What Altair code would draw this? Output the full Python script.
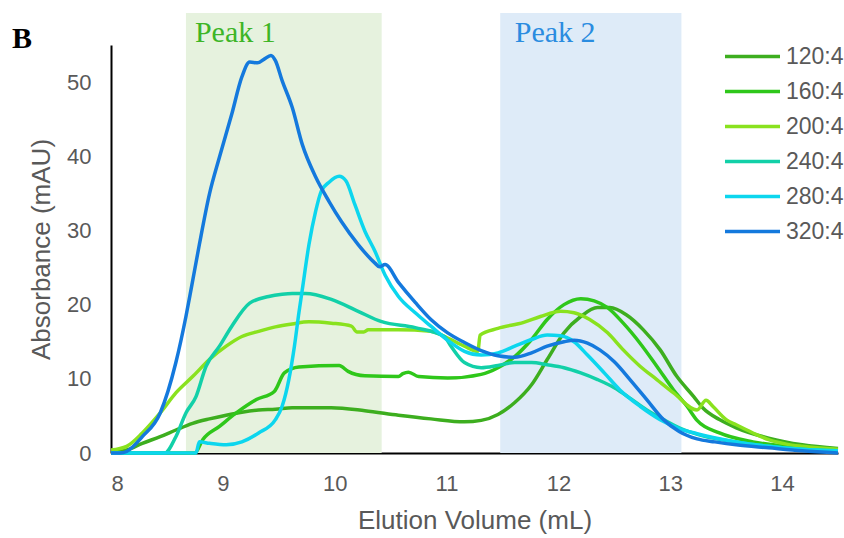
import altair as alt
import pandas as pd

series_names = ["120:4", "160:4", "200:4", "240:4", "280:4", "320:4"]
series_colors = ["#3dae1f", "#2fc71a", "#89e21e", "#12d0a8", "#0cd6ee", "#1479dd"]

x_120 = [8.0, 8.14, 8.28, 8.44, 8.58, 8.73, 8.88, 9.03, 9.17, 9.32, 9.47, 9.62, 9.77, 9.97, 10.27, 10.57, 10.86, 11.16, 11.31, 11.46, 11.61, 11.76, 11.90, 12.05, 12.20, 12.35, 12.46, 12.61, 12.76, 12.91, 13.06, 13.21, 13.29, 13.44, 13.59, 13.88, 14.18, 14.5]
y_120 = [0, 0.4, 1.3, 2.2, 3.1, 4.0, 4.6, 5.1, 5.5, 5.8, 5.9, 6.1, 6.1, 6.1, 5.7, 5.1, 4.6, 4.2, 4.4, 5.2, 6.8, 9.2, 12.6, 16.2, 18.4, 19.6, 19.6, 18.6, 16.6, 13.9, 10.3, 7.6, 6.1, 4.5, 3.4, 2.0, 1.1, 0.6]

x_160 = [8.0, 8.75, 8.82, 8.97, 9.12, 9.30, 9.46, 9.55, 9.68, 10.04, 10.12, 10.27, 10.57, 10.61, 10.66, 10.75, 11.01, 11.31, 11.46, 11.61, 11.76, 11.90, 12.05, 12.20, 12.32, 12.44, 12.58, 12.73, 12.88, 13.03, 13.15, 13.24, 13.44, 13.74, 14.04, 14.5]
y_160 = [0, 0, 1.8, 3.6, 5.4, 7.2, 8.3, 10.8, 11.6, 11.8, 11.0, 10.4, 10.3, 10.7, 10.9, 10.3, 10.1, 10.6, 11.5, 13.0, 15.3, 18.0, 20.0, 20.8, 20.5, 19.6, 17.5, 14.8, 11.7, 8.5, 6.3, 4.4, 2.7, 1.5, 0.9, 0.4]

x_200 = [8.0, 8.14, 8.28, 8.44, 8.58, 8.73, 8.88, 9.03, 9.17, 9.32, 9.47, 9.62, 9.77, 9.97, 10.15, 10.20, 10.26, 10.30, 10.57, 10.86, 11.01, 11.16, 11.28, 11.30, 11.46, 11.69, 11.84, 12.02, 12.14, 12.28, 12.44, 12.58, 12.73, 12.88, 13.03, 13.24, 13.32, 13.38, 13.50, 13.59, 13.74, 13.88, 14.04, 14.18, 14.5]
y_200 = [0.4, 0.9, 2.7, 5.4, 8.1, 10.3, 12.6, 14.4, 15.7, 16.4, 17.0, 17.4, 17.7, 17.5, 17.1, 16.3, 16.3, 16.6, 16.6, 16.4, 15.5, 14.4, 13.7, 15.9, 16.8, 17.6, 18.4, 19.1, 18.9, 18.0, 16.2, 13.9, 11.7, 9.9, 8.1, 5.8, 7.1, 6.3, 4.5, 3.8, 2.7, 1.8, 1.2, 0.9, 0.5]

x_240 = [8.0, 8.48, 8.58, 8.67, 8.76, 8.85, 8.97, 9.08, 9.24, 9.41, 9.53, 9.62, 9.74, 9.97, 10.21, 10.42, 10.72, 10.98, 11.04, 11.16, 11.31, 11.46, 11.61, 11.76, 11.90, 12.05, 12.20, 12.35, 12.50, 12.64, 12.79, 12.94, 13.08, 13.29, 13.59, 13.88, 14.18, 14.5]
y_240 = [0, 0, 2.2, 5.4, 7.6, 11.7, 14.4, 17.1, 20.2, 21.1, 21.4, 21.5, 21.5, 20.7, 19.1, 17.7, 16.9, 15.7, 14.4, 12.2, 11.5, 11.8, 12.2, 12.2, 11.9, 11.5, 10.8, 9.9, 8.8, 7.4, 5.8, 4.5, 3.4, 2.3, 1.5, 0.9, 0.5, 0.3]

x_280 = [8.0, 8.76, 8.79, 8.88, 9.03, 9.17, 9.32, 9.47, 9.53, 9.59, 9.64, 9.68, 9.71, 9.77, 9.83, 9.88, 9.95, 10.04, 10.10, 10.18, 10.27, 10.36, 10.45, 10.57, 10.72, 10.86, 11.01, 11.16, 11.31, 11.46, 11.61, 11.76, 11.90, 12.02, 12.14, 12.26, 12.41, 12.55, 12.73, 12.91, 13.08, 13.24, 13.59, 13.88, 14.18, 14.5]
y_280 = [0, 0, 1.5, 1.3, 1.1, 1.5, 2.7, 4.5, 6.3, 9.9, 14.4, 18.9, 22.0, 28.1, 32.6, 35.3, 36.5, 37.3, 36.7, 33.5, 29.9, 27.2, 24.0, 21.1, 18.9, 17.1, 15.2, 13.7, 13.2, 13.5, 14.4, 15.3, 15.9, 15.8, 15.0, 13.2, 10.8, 8.5, 6.3, 4.5, 3.3, 2.6, 1.5, 0.9, 0.5, 0.3]

x_320 = [8.0, 8.08, 8.14, 8.28, 8.44, 8.58, 8.67, 8.72, 8.79, 8.88, 8.97, 9.08, 9.17, 9.24, 9.31, 9.37, 9.43, 9.47, 9.53, 9.62, 9.71, 9.83, 9.95, 10.06, 10.21, 10.36, 10.40, 10.45, 10.57, 10.72, 10.86, 11.01, 11.16, 11.31, 11.46, 11.61, 11.76, 11.90, 12.05, 12.14, 12.26, 12.37, 12.50, 12.64, 12.79, 12.94, 13.08, 13.24, 13.40, 13.59, 13.88, 14.18, 14.5]
y_320 = [0, 0, 0.2, 2.2, 5.4, 12.2, 18.4, 22.4, 28.1, 34.9, 39.9, 45.7, 50.7, 52.7, 52.6, 53.1, 53.6, 52.9, 50.2, 46.6, 41.6, 37.2, 33.9, 31.2, 28.1, 25.6, 25.1, 25.4, 23.0, 20.3, 18.0, 16.2, 14.9, 13.8, 13.1, 12.9, 13.5, 14.4, 15.0, 15.2, 14.8, 13.9, 12.3, 9.9, 7.2, 4.5, 2.9, 1.9, 1.5, 1.1, 0.7, 0.3, 0]

peak_names = ["Peak 1", "Peak 2"]
peak_start = [8.67, 11.48]
peak_end = [10.42, 13.10]
peak_top = [59.3, 59.3]
peak_bottom = [0, 0]
peak_fill = ["#e6f2de", "#deebf8"]
peak_text_color = ["#3db526", "#2a8ce0"]
peak_label_x = [8.75, 11.61]
peak_label_y = [55.4, 55.4]

x_ticks = [8, 9, 10, 11, 12, 13, 14]
y_ticks = [0, 10, 20, 30, 40, 50]

all_x = [x_120, x_160, x_200, x_240, x_280, x_320]
all_y = [y_120, y_160, y_200, y_240, y_280, y_320]
rows = []
for name, xs, ys in zip(series_names, all_x, all_y):
    for i, (a, b) in enumerate(zip(xs, ys)):
        rows.append({"series": name, "vol": a, "absb": b, "idx": i})
df = pd.DataFrame(rows)

peaks = pd.DataFrame({
    "name": peak_names, "start": peak_start, "end": peak_end,
    "top": peak_top, "bottom": peak_bottom,
    "lx": peak_label_x, "ly": peak_label_y,
})

xscale = alt.Scale(domain=[8, 14.5], nice=False, zero=False)
yscale = alt.Scale(domain=[0, 55], nice=False)

gray = "#595959"
xaxis = alt.Axis(values=x_ticks, format="d", title="Elution Volume (mL)", grid=False, ticks=False,
                 domainColor="black", domainWidth=2, labelFontSize=22, labelColor=gray,
                 labelFont="Liberation Sans", titleFont="Liberation Sans", titleFontSize=26,
                 titleFontWeight="normal", titleColor=gray, labelPadding=20, titlePadding=13)
yaxis = alt.Axis(values=y_ticks, title="Absorbance (mAU)", grid=False, ticks=False,
                 domainColor="black", domainWidth=2, labelFontSize=22, labelColor=gray,
                 labelFont="Liberation Sans", titleFont="Liberation Sans", titleFontSize=26,
                 titleFontWeight="normal", titleColor=gray, labelPadding=20, titlePadding=12)

rects = alt.Chart(peaks).mark_rect().encode(
    x=alt.X("start:Q", scale=xscale, axis=xaxis),
    x2="end:Q",
    y=alt.Y("top:Q", scale=yscale, axis=yaxis),
    y2="bottom:Q",
    color=alt.Color("name:N", scale=alt.Scale(domain=peak_names, range=peak_fill), legend=None),
)

labels = alt.Chart(peaks).mark_text(
    align="left", baseline="alphabetic", font="Liberation Serif", fontSize=30
).encode(
    x=alt.X("lx:Q", scale=xscale),
    y=alt.Y("ly:Q", scale=yscale),
    text="name:N",
    color=alt.Color("name:N", scale=alt.Scale(domain=peak_names, range=peak_text_color), legend=None),
)

lines = alt.Chart(df).mark_line(strokeWidth=3.5, interpolate="monotone").encode(
    x=alt.X("vol:Q", scale=xscale),
    y=alt.Y("absb:Q", scale=yscale),
    color=alt.Color("series:N", scale=alt.Scale(domain=series_names, range=series_colors),
                    legend=alt.Legend(title=None, orient="none", legendX=612, legendY=-6,
                                      symbolType="stroke", symbolSize=3025, symbolStrokeWidth=3.5,
                                      clipHeight=35, rowPadding=0, labelFontSize=23,
                                      labelFont="Liberation Sans", labelColor=gray, labelOffset=4)),
    order="idx:Q",
)

chart = alt.layer(rects, lines, labels).resolve_scale(color="independent").properties(
    width=727, height=408,
    autosize=alt.AutoSizeParams(type="none"),
    padding={"left": 111, "top": 45, "right": 6, "bottom": 85},
    title=alt.TitleParams("B", anchor="start", orient="top", frame="group", font="Liberation Serif",
                          fontSize=30, fontWeight="bold", color="black", dx=-99, dy=65, offset=0,
                          baseline="alphabetic"),
).configure_view(stroke=None)

chart.save("out.html", embed_options={"renderer": "svg", "actions": False})
